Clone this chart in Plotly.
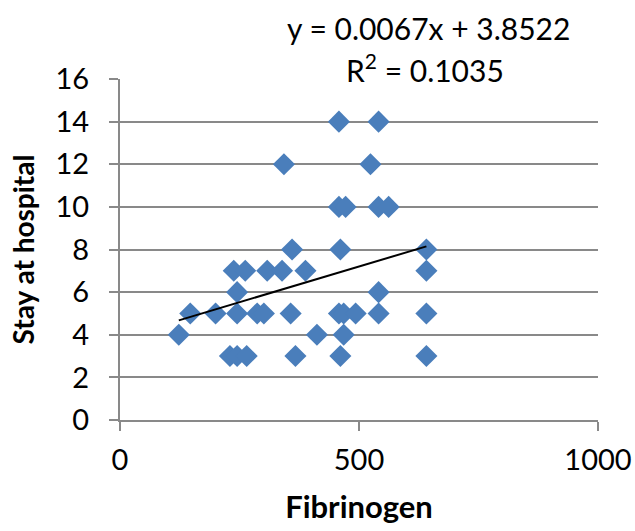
import plotly.graph_objects as go

fibrinogen = [123, 147, 200, 238, 262, 245, 245, 230, 245, 265, 308, 339, 360, 388,
              287, 301, 343, 357, 367, 412, 458, 458, 472, 461, 458, 468, 493, 468,
              461, 541, 524, 541, 562, 641, 641, 541, 541, 641, 641]
stay = [4, 5, 5, 7, 7, 6, 5, 3, 3, 3, 7, 7, 8, 7,
        5, 5, 12, 5, 3, 4, 14, 10, 10, 8, 5, 5, 5, 4,
        3, 14, 12, 10, 10, 8, 7, 6, 5, 5, 3]
slope, intercept, r2 = 0.0067, 3.8522, 0.1035
x_ticks = [0, 500, 1000]
y_ticks = [0, 2, 4, 6, 8, 10, 12, 14, 16]

xmin, xmax = min(fibrinogen), max(fibrinogen)
trend_x = [xmin, xmax]
trend_y = [slope * v + intercept for v in trend_x]

font = "Lato, 'Open Sans', sans-serif"
grid = "#898989"

fig = go.Figure()
fig.add_trace(go.Scatter(x=fibrinogen, y=stay, mode="markers",
                         marker=dict(symbol="diamond", size=17, color="#4A7EBB",
                                     line=dict(width=0)),
                         showlegend=False))
fig.add_trace(go.Scatter(x=trend_x, y=trend_y, mode="lines",
                         line=dict(color="black", width=2), showlegend=False))

L, R, T, B = 120, 37, 79, 111
W, H = 635, 531
pw, ph = W - L - R, H - T - B

fig.update_layout(
    width=W, height=H,
    margin=dict(l=L, r=R, t=T, b=B, autoexpand=False),
    paper_bgcolor="white", plot_bgcolor="white",
    font=dict(family=font, size=29, color="black"),
    xaxis=dict(range=[0, 1000], tickvals=x_ticks, showgrid=False, zeroline=False,
               showline=True, linecolor=grid, linewidth=2,
               ticks="outside", ticklen=9, tickwidth=2, tickcolor=grid,
               ticklabelstandoff=4,
               title=dict(text="<b>Fibrinogen</b>", font=dict(size=31), standoff=22)),
    yaxis=dict(range=[0, 16], tickvals=y_ticks, showgrid=True, gridcolor=grid, gridwidth=2,
               zeroline=False, showline=True, linecolor=grid, linewidth=2,
               ticks="outside", ticklen=9, tickwidth=2, tickcolor=grid,
               ticklabelstandoff=14,
               title=dict(text="<b>Stay at hospital</b>", font=dict(size=28), standoff=13)),
)
fig.add_annotation(x=(428 - L) / pw, y=(H - B - 28) / ph, xref="paper", yref="paper",
                   text=f"y = {slope}x + {intercept}", showarrow=False,
                   font=dict(size=30), xanchor="center", yanchor="middle")
fig.add_annotation(x=(425 - L) / pw, y=(H - B - 68) / ph, xref="paper", yref="paper",
                   text=f"R<sup>2</sup> = {r2}", showarrow=False,
                   font=dict(size=30), xanchor="center", yanchor="middle")
fig.write_html("out.html", post_script="document.body.style.margin='0';",
               config={"displayModeBar": False})
